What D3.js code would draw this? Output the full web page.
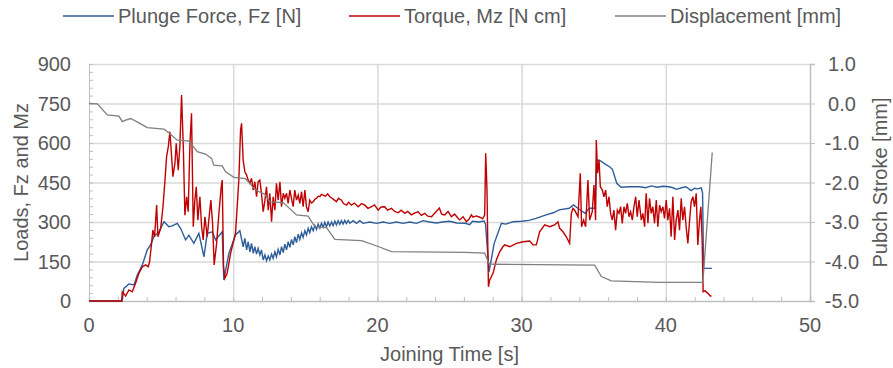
<!DOCTYPE html>
<html>
<head>
<meta charset="utf-8">
<script src="https://cdn.jsdelivr.net/npm/d3@7"></script>
<style>
  body { margin: 0; background: #fff; }
  svg { font-family: "Liberation Sans", Arial, sans-serif; }
  .lbl { fill: #595959; font-size: 20px; }
</style>
</head>
<body>
<svg id="chart"></svg>
<script>
// series: [time s, value]
const plungeForce = [
  [0, 0], [2.3, 0], [2.42, 48], [2.77, 65], [3.12, 61], [3.35, 99], [3.7, 137], [4.04, 194],
  [4.27, 213], [4.5, 244], [4.85, 263], [5.2, 301], [5.54, 282], [5.77, 285], [6.12, 295],
  [6.35, 276], [6.7, 232], [6.93, 250], [7.27, 219], [7.62, 257], [7.97, 168], [8.2, 257],
  [8.55, 263], [8.78, 232], [9.24, 263], [9.35, 80], [9.7, 181], [10.16, 251], [10.46, 267],
  [10.69, 206], [10.81, 238], [10.93, 194], [11.04, 225], [11.16, 187], [11.27, 219], [11.39, 181],
  [11.5, 206], [11.62, 178], [11.73, 200], [11.85, 175], [11.96, 194], [12.08, 156], [12.2, 175],
  [12.31, 153], [12.43, 171], [12.54, 156], [12.66, 178], [12.77, 162], [12.89, 187], [13.0, 168],
  [13.12, 196], [13.24, 175], [13.35, 206], [13.47, 184], [13.58, 216], [13.7, 194], [13.81, 225],
  [13.93, 204], [14.04, 234], [14.16, 213], [14.27, 244], [14.39, 222], [14.51, 254], [14.62, 234],
  [14.74, 259], [14.85, 242], [14.97, 267], [15.08, 251], [15.2, 276], [15.31, 259], [15.43, 282],
  [15.55, 267], [15.66, 287], [15.78, 272], [15.89, 292], [16.01, 276], [16.12, 295], [16.24, 280],
  [16.35, 299], [16.47, 282], [16.58, 300], [16.7, 285], [16.82, 300], [16.93, 286], [17.05, 303],
  [17.16, 289], [17.28, 305], [17.39, 291], [17.51, 305], [17.62, 292], [17.74, 306], [17.85, 294],
  [17.97, 306], [18.09, 295], [18.32, 305], [18.55, 295], [18.78, 305], [19.01, 295], [19.47, 300],
  [19.93, 295], [20.4, 300], [20.86, 295], [21.32, 300], [21.78, 295], [22.24, 300], [22.71, 295],
  [23.17, 305], [23.63, 300], [24.1, 296], [24.5, 300], [25.0, 303], [25.5, 296], [26.1, 295],
  [26.4, 290], [26.6, 303], [27.0, 300], [27.4, 304], [27.5, 292], [27.74, 111], [28.1, 219],
  [28.6, 295], [28.9, 292], [29.4, 301], [30.0, 303], [30.5, 306], [31.0, 314], [31.7, 327],
  [32.2, 335], [32.6, 346], [33.3, 352], [33.6, 365], [33.9, 352], [34.4, 333], [34.7, 352],
  [35.1, 352], [35.2, 535], [35.4, 535], [35.8, 520], [36.1, 510], [36.3, 500], [36.6, 447],
  [36.9, 432], [37.5, 434], [38.2, 434], [38.6, 430], [39.0, 437], [39.4, 432], [39.8, 436],
  [40.2, 434], [40.5, 430], [40.72, 424], [41.1, 430], [41.4, 434], [41.76, 419], [42.0, 428],
  [42.2, 426], [42.46, 430], [42.55, 410], [42.62, 124], [43.2, 124]
];

const torque = [
  [0, 0], [2.26, 0], [2.31, 35], [2.54, 19], [2.77, 42], [3.0, 35], [3.23, 67], [3.46, 105],
  [3.7, 130], [3.93, 137], [4.11, 130], [4.2, 149], [4.34, 219], [4.43, 269], [4.55, 244],
  [4.69, 364], [4.78, 244], [4.97, 276], [5.13, 358], [5.27, 459], [5.38, 548], [5.5, 586],
  [5.61, 643], [5.73, 548], [5.82, 472], [5.96, 523], [6.05, 599], [6.19, 497], [6.3, 586],
  [6.42, 782], [6.54, 586], [6.65, 326], [6.77, 396], [6.88, 339], [7.0, 599], [7.11, 713],
  [7.23, 282], [7.34, 383], [7.44, 434], [7.55, 307], [7.69, 396], [7.81, 282], [7.92, 232],
  [8.04, 320], [8.2, 244], [8.31, 307], [8.45, 383], [8.57, 295], [8.68, 137], [8.85, 219],
  [9.01, 333], [9.17, 434], [9.24, 459], [9.33, 130], [9.42, 86], [9.58, 105], [9.82, 181],
  [10.16, 257], [10.39, 459], [10.51, 649], [10.58, 675], [10.64, 600], [10.69, 535], [10.81, 491],
  [10.93, 478], [11.04, 459], [11.16, 447], [11.27, 466], [11.39, 421], [11.5, 453], [11.62, 396],
  [11.73, 453], [11.85, 459], [11.96, 409], [12.08, 339], [12.2, 383], [12.31, 434], [12.43, 345],
  [12.54, 409], [12.66, 301], [12.77, 396], [12.89, 345], [13.0, 447], [13.12, 383], [13.24, 453],
  [13.35, 358], [13.47, 409], [13.58, 390], [13.7, 409], [13.81, 371], [13.93, 421], [14.04, 390],
  [14.16, 358], [14.27, 421], [14.39, 383], [14.51, 402], [14.62, 371], [14.74, 415], [14.85, 358],
  [14.97, 421], [15.08, 358], [15.2, 339], [15.31, 383], [15.43, 372], [15.55, 377], [15.66, 386],
  [15.78, 390], [15.9, 398], [16.01, 396], [16.12, 405], [16.24, 402], [16.4, 398], [16.55, 407],
  [16.7, 396], [16.85, 390], [17.0, 384], [17.16, 377], [17.3, 390], [17.51, 383], [17.65, 370],
  [17.86, 364], [18.0, 375], [18.2, 364], [18.4, 372], [18.67, 358], [18.9, 370], [19.13, 364],
  [19.35, 352], [19.59, 358], [19.8, 365], [20.05, 345], [20.25, 357], [20.51, 358], [20.7, 345],
  [20.97, 352], [21.2, 340], [21.44, 335], [21.65, 345], [21.9, 333], [22.1, 340], [22.36, 327],
  [22.6, 335], [22.82, 339], [23.05, 325], [23.28, 333], [23.5, 322], [23.75, 320], [24.0, 335],
  [24.3, 353], [24.45, 330], [24.67, 327], [24.9, 340], [25.13, 320], [25.35, 330], [25.59, 314],
  [25.71, 308], [25.94, 320], [26.17, 301], [26.35, 310], [26.52, 327], [26.63, 318], [26.86, 323],
  [27.1, 318], [27.3, 312], [27.44, 327], [27.51, 561], [27.6, 421], [27.7, 54], [27.79, 80],
  [28.02, 105], [28.25, 156], [28.48, 187], [28.7, 206], [28.83, 213], [29.18, 206], [29.64, 219],
  [30.1, 225], [30.56, 228], [30.79, 213], [31.02, 213], [31.25, 263], [31.6, 289], [31.95, 282],
  [32.29, 289], [32.52, 301], [32.64, 276], [32.87, 263], [33.1, 244], [33.33, 219], [33.45, 333],
  [33.56, 352], [33.68, 345], [33.91, 320], [34.07, 485], [34.16, 282], [34.3, 307], [34.44, 282],
  [34.6, 459], [34.72, 307], [34.9, 339], [35.02, 440], [35.13, 307], [35.18, 611], [35.27, 485],
  [35.37, 535], [35.46, 434], [35.6, 421], [35.71, 396], [35.83, 421], [35.94, 358], [36.06, 396],
  [36.17, 333], [36.29, 307], [36.4, 345], [36.52, 269], [36.64, 345], [36.75, 333], [36.87, 358],
  [36.98, 295], [37.1, 358], [37.21, 333], [37.33, 371], [37.45, 320], [37.56, 339], [37.68, 307],
  [37.79, 358], [37.91, 396], [38.02, 320], [38.14, 383], [38.3, 307], [38.41, 333], [38.53, 282],
  [38.64, 409], [38.76, 295], [38.87, 390], [38.99, 333], [39.1, 358], [39.22, 295], [39.34, 383],
  [39.45, 282], [39.57, 364], [39.68, 339], [39.8, 358], [39.91, 314], [40.03, 383], [40.14, 307],
  [40.26, 352], [40.37, 244], [40.49, 396], [40.61, 232], [40.72, 307], [40.84, 345], [40.95, 269],
  [41.07, 390], [41.18, 307], [41.3, 358], [41.41, 282], [41.53, 219], [41.65, 307], [41.76, 377],
  [41.88, 396], [41.99, 358], [42.11, 409], [42.22, 213], [42.34, 307], [42.43, 358], [42.52, 232],
  [42.59, 35], [42.71, 39], [42.92, 29], [43.08, 19], [43.17, 19]
];

const displacement = [
  [0, 0.0], [0.58, -0.01], [1.27, -0.29], [2.08, -0.32], [2.31, -0.46], [2.54, -0.42], [2.89, -0.38],
  [3.46, -0.49], [4.04, -0.61], [5.2, -0.65], [5.54, -0.74], [6.12, -0.93], [6.93, -0.95],
  [7.51, -1.22], [8.08, -1.28], [8.5, -1.39], [8.66, -1.56], [9.24, -1.58], [9.47, -1.73],
  [10.05, -1.87], [10.85, -1.9], [11.55, -2.19], [12.2, -2.3], [12.54, -2.49], [13.47, -2.51],
  [14.39, -2.82], [15.2, -2.85], [15.66, -3.12], [16.47, -3.14], [17.05, -3.44], [18.9, -3.47],
  [20.05, -3.62], [20.97, -3.75], [26.06, -3.77], [27.44, -3.79], [27.74, -4.05], [28.02, -4.07],
  [35.07, -4.09], [35.53, -4.38], [36.22, -4.49], [39.57, -4.53], [42.57, -4.53], [43.22, -1.24]
];

const seriesNames = ['Plunge Force, Fz [N]', 'Torque, Mz [N cm]', 'Displacement [mm]'];
const seriesColors = ['#2e5d99', '#c00000', '#7f7f7f'];
const xTicks = [0, 10, 20, 30, 40, 50];
const leftTicks = [0, 150, 300, 450, 600, 750, 900];
const rightTicks = [-5, -4, -3, -2, -1, 0, 1];

const W = 893, H = 368;
const plot = { left: 89, right: 810, top: 64, bottom: 301 };

const svg = d3.select('#chart').attr('width', W).attr('height', H);

const x = d3.scaleLinear().domain([0, 50]).range([plot.left, plot.right]);
const yL = d3.scaleLinear().domain([0, 900]).range([plot.bottom, plot.top]);
const yR = d3.scaleLinear().domain([-5, 1]).range([plot.bottom, plot.top]);

// gridlines
svg.append('g')
  .attr('transform', `translate(${plot.left},0)`)
  .call(d3.axisLeft(yL).tickValues(leftTicks.slice(1)).tickSize(-(plot.right - plot.left)).tickFormat(''))
  .call(g => g.select('.domain').remove())
  .selectAll('line').attr('stroke', '#d9d9d9').attr('stroke-width', 1.5);

svg.append('g')
  .attr('transform', `translate(0,${plot.bottom})`)
  .call(d3.axisBottom(x).tickValues(xTicks.slice(1, -1)).tickSize(-(plot.bottom - plot.top)).tickFormat(''))
  .call(g => g.select('.domain').remove())
  .selectAll('line').attr('stroke', '#d9d9d9').attr('stroke-width', 1.5);

// minor tick marks (inside)
svg.append('g')
  .attr('transform', `translate(${plot.left},0)`)
  .call(d3.axisLeft(yL).tickValues(d3.range(0, 901, 30)).tickSize(-4).tickFormat(''))
  .call(g => g.select('.domain').attr('stroke', '#bfbfbf'))
  .selectAll('line').attr('stroke', '#bfbfbf');

svg.append('g')
  .attr('transform', `translate(0,${plot.bottom})`)
  .call(d3.axisBottom(x).tickValues(d3.range(0, 51, 2)).tickSize(-4).tickFormat(''))
  .call(g => g.select('.domain').attr('stroke', '#bfbfbf').attr('stroke-width', 1.5))
  .selectAll('line').attr('stroke', '#bfbfbf');

svg.append('g')
  .attr('transform', `translate(${plot.right},0)`)
  .call(d3.axisRight(yR).tickValues(rightTicks).tickSize(5).tickFormat(''))
  .call(g => g.select('.domain').attr('stroke', '#bfbfbf').attr('stroke-width', 1.5))
  .selectAll('line').attr('stroke', '#bfbfbf');

// tick labels
svg.append('g').selectAll('text').data(leftTicks).join('text')
  .attr('class', 'lbl').attr('x', 71).attr('y', d => yL(d) + 7)
  .attr('text-anchor', 'end').text(d => d);

svg.append('g').selectAll('text').data(rightTicks).join('text')
  .attr('class', 'lbl').attr('x', 842).attr('y', d => yR(d) + 7)
  .attr('text-anchor', 'middle').text(d => d.toFixed(1));

svg.append('g').selectAll('text').data(xTicks).join('text')
  .attr('class', 'lbl').attr('x', d => x(d)).attr('y', 332)
  .attr('text-anchor', 'middle').text(d => d);

// axis titles
svg.append('text').attr('class', 'lbl')
  .attr('transform', `translate(28,${(plot.top + plot.bottom) / 2}) rotate(-90)`)
  .attr('text-anchor', 'middle').text('Loads, Fz and Mz');

svg.append('text').attr('class', 'lbl')
  .attr('transform', `translate(887,${(plot.top + plot.bottom) / 2}) rotate(-90)`)
  .attr('text-anchor', 'middle').text('Pubch Stroke [mm]');

svg.append('text').attr('class', 'lbl')
  .attr('x', (plot.left + plot.right) / 2).attr('y', 361)
  .attr('text-anchor', 'middle').text('Joining Time [s]');

// series lines
const lineL = d3.line().x(d => x(d[0])).y(d => yL(d[1]));
const lineR = d3.line().x(d => x(d[0])).y(d => yR(d[1]));

svg.append('path').datum(plungeForce).attr('d', lineL)
  .attr('fill', 'none').attr('stroke', seriesColors[0]).attr('stroke-width', 1.4);
svg.append('path').datum(torque).attr('d', lineL)
  .attr('fill', 'none').attr('stroke', seriesColors[1]).attr('stroke-width', 1.4);
svg.append('path').datum(displacement).attr('d', lineR)
  .attr('fill', 'none').attr('stroke', seriesColors[2]).attr('stroke-width', 1.3);

// legend
const legendX = [63, 349, 615];
const leg = svg.append('g').selectAll('g').data(seriesNames).join('g')
  .attr('transform', (d, i) => `translate(${legendX[i]},16)`);
leg.append('line').attr('x1', 0).attr('x2', 51).attr('y1', 0).attr('y2', 0)
  .attr('stroke', (d, i) => seriesColors[i]).attr('stroke-width', 1.5);
leg.append('text').attr('class', 'lbl').attr('x', 55).attr('y', 7).text(d => d);
</script>
</body>
</html>
